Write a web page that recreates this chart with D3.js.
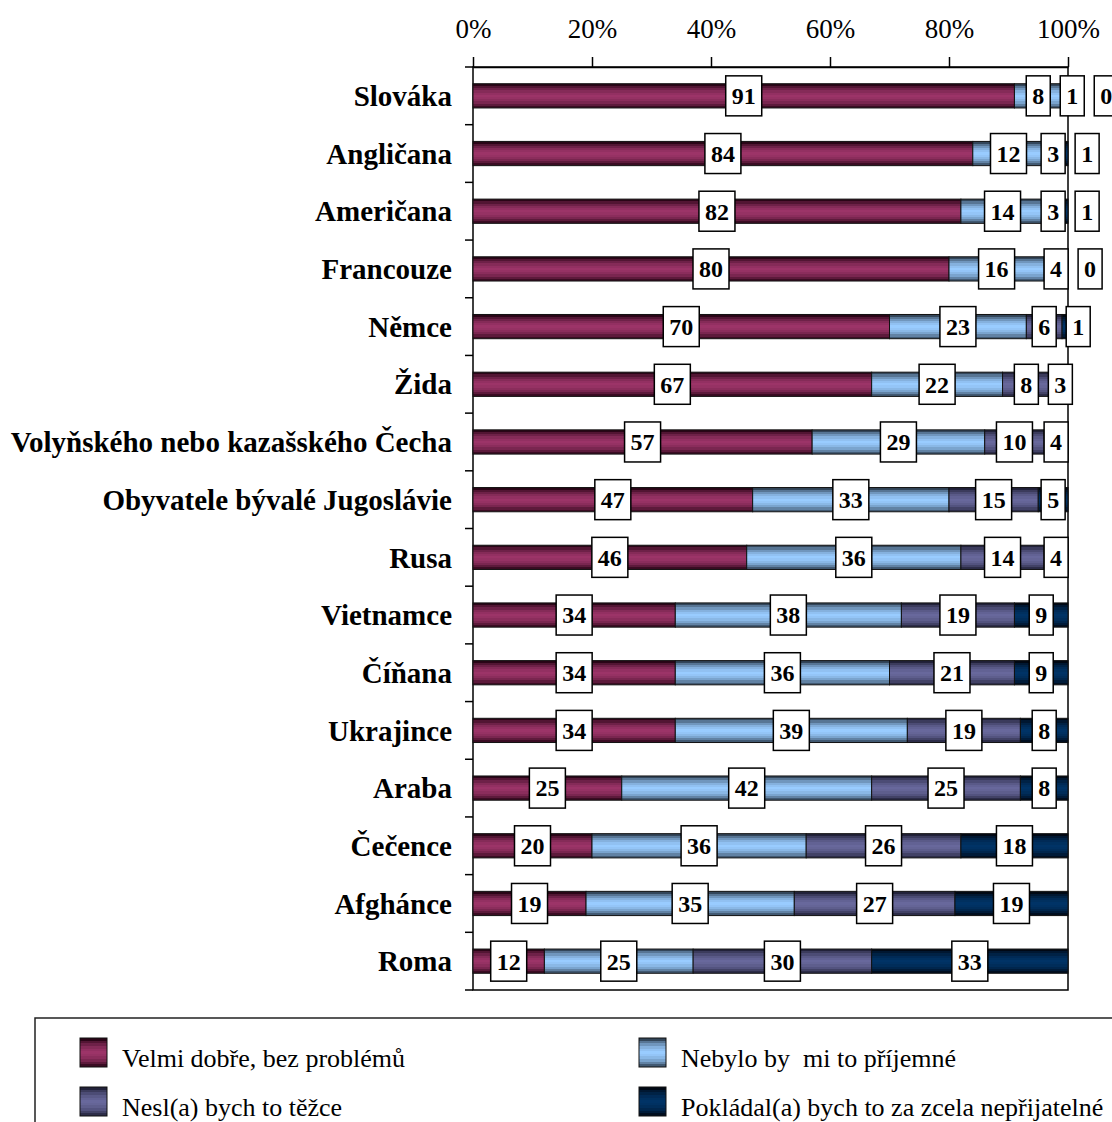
<!DOCTYPE html>
<html>
<head>
<meta charset="utf-8">
<script src="https://cdn.jsdelivr.net/npm/d3@7"></script>
<style>
  html, body { margin: 0; padding: 0; background: #fff; }
  svg { display: block; }
</style>
</head>
<body>
<svg id="chart" width="1112" height="1122"></svg>
<script>
// Attitudes toward neighbours of different nationalities (% of respondents)
const categories = [
  "Slováka", "Angličana", "Američana", "Francouze", "Němce", "Žida",
  "Volyňského nebo kazašského Čecha", "Obyvatele bývalé Jugoslávie", "Rusa",
  "Vietnamce", "Číňana", "Ukrajince", "Araba", "Čečence", "Afghánce", "Roma"
];
const seriesNames = [
  "Velmi dobře, bez problémů",
  "Nebylo by  mi to příjemné",
  "Nesl(a) bych to těžce",
  "Pokládal(a) bych to za zcela nepřijatelné"
];
const veryWell     = [91, 84, 82, 80, 70, 67, 57, 47, 46, 34, 34, 34, 25, 20, 19, 12];
const unpleasant   = [ 8, 12, 14, 16, 23, 22, 29, 33, 36, 38, 36, 39, 42, 36, 35, 25];
const hard         = [ 1,  3,  3,  4,  6,  8, 10, 15, 14, 19, 21, 19, 25, 26, 27, 30];
const unacceptable = [ 0,  1,  1,  0,  1,  3,  4,  5,  4,  9,  9,  8,  8, 18, 19, 33];
const tickValues = [0, 20, 40, 60, 80, 100];

const seriesValues = [veryWell, unpleasant, hard, unacceptable];
const baseColors = ["#9c3468", "#99ccff", "#68689c", "#003366"];
const edgeColors = ["#2a0517", "#33465a", "#22223a", "#000814"];

const svg = d3.select("#chart");
const plot = { left: 473, right: 1068, top: 67, bottom: 990 };
const serif = "'Liberation Serif', 'Times New Roman', serif";

// Banded cylinder-like gradients for the bar fills
const defs = svg.append("defs");
const profile = [0, 0.35, 0.6, 0.8, 0.92, 1, 0.95, 0.85, 0.7, 0.45, 0.15];
baseColors.forEach((c, i) => {
  const g = defs.append("linearGradient")
    .attr("id", "grad" + i).attr("x1", 0).attr("y1", 0).attr("x2", 0).attr("y2", 1);
  const mix = d3.interpolateRgb(edgeColors[i], c);
  const n = profile.length;
  profile.forEach((p, k) => {
    g.append("stop").attr("offset", (k / n)).attr("stop-color", mix(p));
    g.append("stop").attr("offset", ((k + 1) / n)).attr("stop-color", mix(p));
  });
});

// Stack the series
const rows = categories.map((name, i) => {
  const obj = { name };
  seriesValues.forEach((s, j) => { obj["s" + j] = s[i]; });
  return obj;
});
const stack = d3.stack().keys(seriesValues.map((_, j) => "s" + j));
const stacked = stack(rows);

const x = d3.scaleLinear().domain([0, 100]).range([plot.left, plot.right]);
const y = d3.scaleBand().domain(categories).range([plot.top, plot.bottom]).padding(0);
const barH = y.step() * 0.42;

// Plot frame
svg.append("rect")
  .attr("x", plot.left).attr("y", plot.top)
  .attr("width", plot.right - plot.left).attr("height", plot.bottom - plot.top)
  .attr("fill", "none").attr("stroke", "#000").attr("stroke-width", 1.5);

// Top percentage axis
const xAxis = d3.axisTop(x)
  .tickValues(tickValues)
  .tickFormat(d => d + "%")
  .tickSize(10).tickSizeOuter(0).tickPadding(19);
const gx = svg.append("g").attr("transform", `translate(0,${plot.top})`).call(xAxis);
gx.select(".domain").attr("stroke", "#000").attr("stroke-width", 1.5);
gx.selectAll(".tick line").attr("stroke", "#000").attr("stroke-width", 1.5);
gx.selectAll(".tick text")
  .attr("fill", "#000").style("font-family", serif).style("font-size", "27px");

// Category axis: labels at band centres, ticks at band boundaries
const yAxis = d3.axisLeft(y).tickSize(0).tickPadding(21);
const gy = svg.append("g").attr("transform", `translate(${plot.left},0)`).call(yAxis);
gy.select(".domain").remove();
gy.selectAll(".tick text")
  .attr("fill", "#000")
  .style("font-family", serif).style("font-size", "29px").style("font-weight", "bold")
  .attr("dy", "0.35em");
const bounds = d3.range(categories.length + 1).map(i => plot.top + i * y.step());
svg.append("g").selectAll("line").data(bounds).join("line")
  .attr("x1", plot.left - 8).attr("x2", plot.left)
  .attr("y1", d => d).attr("y2", d => d)
  .attr("stroke", "#000").attr("stroke-width", 1.5);

// Bars
const layers = svg.append("g").selectAll("g").data(stacked).join("g")
  .attr("fill", (d, i) => `url(#grad${i})`);
layers.selectAll("rect").data(d => d).join("rect")
  .attr("x", d => x(d[0]))
  .attr("width", d => Math.max(0, x(d[1]) - x(d[0])))
  .attr("y", d => y(d.data.name) + (y.step() - barH) / 2)
  .attr("height", barH)
  .attr("stroke", "#111")
  .attr("stroke-width", 1);

// Value labels in white boxes, nudged right when they would overlap
const labelLayer = svg.append("g");
categories.forEach((name, i) => {
  const cy = y(name) + y.step() / 2;
  let prevRight = -Infinity;
  stacked.forEach((layer, j) => {
    const seg = layer[i];
    const value = seriesValues[j][i];
    const g = labelLayer.append("g");
    const t = g.append("text")
      .text(value)
      .attr("text-anchor", "middle")
      .attr("dy", "0.35em")
      .style("font-family", serif).style("font-size", "24px").style("font-weight", "bold")
      .attr("fill", "#000");
    const w = t.node().getComputedTextLength() + 12;
    let cx = (x(seg[0]) + x(seg[1])) / 2;
    if (cx - w / 2 < prevRight + 10) cx = prevRight + 10 + w / 2;
    prevRight = cx + w / 2;
    t.attr("x", cx).attr("y", cy);
    g.insert("rect", "text")
      .attr("x", cx - w / 2).attr("y", cy - 20)
      .attr("width", w).attr("height", 40)
      .attr("fill", "#fff").attr("stroke", "#000").attr("stroke-width", 1.5);
  });
});

// Legend
const legend = svg.append("g");
legend.append("rect")
  .attr("x", 35).attr("y", 1018).attr("width", 1200).attr("height", 200)
  .attr("fill", "#fff").attr("stroke", "#222").attr("stroke-width", 1.5);
const legX = [80, 639], legY = [1038, 1087];
seriesNames.forEach((name, i) => {
  const lx = legX[i % 2], ly = legY[Math.floor(i / 2)];
  legend.append("rect")
    .attr("x", lx).attr("y", ly).attr("width", 27).attr("height", 29)
    .attr("fill", `url(#grad${i})`).attr("stroke", "#111").attr("stroke-width", 1);
  legend.append("text")
    .attr("x", lx + 42).attr("y", ly + 29)
    .style("white-space", "pre")
    .text(name)
    .style("font-family", serif).style("font-size", "26px")
    .attr("fill", "#000");
});
</script>
</body>
</html>
